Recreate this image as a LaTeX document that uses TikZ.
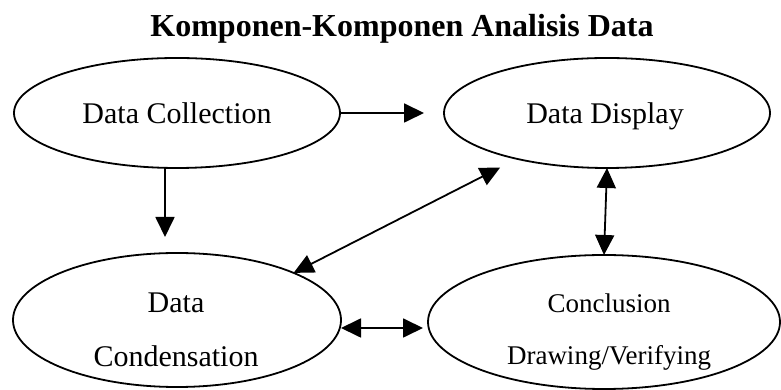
\documentclass[tikz,border=0pt]{standalone}
\usepackage{fontspec}
\setmainfont{Liberation Serif}
\usetikzlibrary{shapes.geometric,arrows.meta}
\begin{document}
\begin{tikzpicture}[x=1pt,y=1pt,
  oval/.style={draw,ellipse,line width=1.8pt,inner sep=0pt,outer sep=0pt},
  txt/.style={anchor=base,inner sep=0pt,font=\fontsize{30}{36}\selectfont},
  txts/.style={anchor=base,inner sep=0pt,font=\fontsize{27}{32}\selectfont},
  arr/.style={line width=1.8pt,-{Triangle[length=20pt,width=19pt]}},
  dbl/.style={line width=1.8pt,{Triangle[length=20pt,width=19pt]}-{Triangle[length=20pt,width=19pt]}}]
\useasboundingbox (0,0) rectangle (781,390);
\node[anchor=base,inner sep=0pt,font=\fontsize{32}{38}\selectfont\bfseries] (title) at (402,353) {Komponen-Komponen Analisis Data};
\node[oval,minimum width=326pt,minimum height=110pt] (dc) at (177,277) {};
\node[oval,minimum width=326pt,minimum height=110pt] (dd) at (607,277) {};
\node[oval,minimum width=328pt,minimum height=134pt] (dcond) at (177,70) {};
\node[oval,minimum width=352pt,minimum height=134pt] (dconc) at (604,68) {};
\node[txt] (t1) at (177,266) {Data Collection};
\node[txt] (t2) at (605,266) {Data Display};
\node[txt] (t3a) at (176,77) {Data};
\node[txt] (t3b) at (176,23) {Condensation};
\node[txts] (t4a) at (609,77) {Conclusion};
\node[txts] (t4b) at (609,25) {Drawing/Verifying};
\draw[arr,shorten >=20pt] (dc.east) -- (dd.west);
\draw[arr,shorten >=16pt] ([xshift=-12pt]dc.south) -- ([xshift=-12pt]dcond.north);
\draw[dbl,shorten >=19pt] (dcond.22) -- (dd);
\draw[dbl] (dconc.north) -- (dd.south);
\draw[dbl,shorten >=5pt] ([yshift=-8pt]dcond.east) -- ([yshift=-6pt]dconc.west);
\end{tikzpicture}
\end{document}
